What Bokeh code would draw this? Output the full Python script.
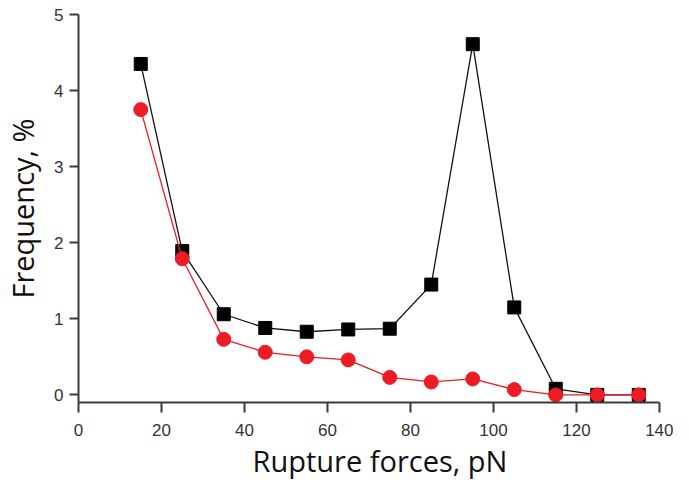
from bokeh.plotting import figure
from bokeh.models import FixedTicker, Range1d, Title
from bokeh.embed import file_html
from bokeh.resources import INLINE

# Data
force = [15, 25, 35, 45, 55, 65, 75, 85, 95, 105, 115, 125, 135]
freq_black = [4.35, 1.89, 1.06, 0.88, 0.83, 0.86, 0.87, 1.45, 4.61, 1.15, 0.08, 0.0, 0.0]
freq_red = [3.75, 1.79, 0.73, 0.56, 0.50, 0.46, 0.23, 0.17, 0.21, 0.07, 0.0, 0.0, 0.0]
x_ticks = [0, 20, 40, 60, 80, 100, 120, 140]
y_ticks = [0, 1, 2, 3, 4, 5]
x_title = "Rupture forces, pN"
y_title = "Frequency, %"

p = figure(width=673, height=482, output_backend="svg", toolbar_location=None,
           x_range=Range1d(0, 140), y_range=Range1d(-0.1, 5),
           min_border_left=75, min_border_right=14, min_border_top=14, min_border_bottom=80)
p.outline_line_color = None
p.xgrid.visible = False
p.ygrid.visible = False
p.background_fill_color = "white"
p.border_fill_color = "white"

RED = "#ed1c24"
p.line(force, freq_black, line_color="#111111", line_width=1.3)
p.scatter(force, freq_black, marker="square", size=13, fill_color="black", line_color="black")
p.line(force, freq_red, line_color=RED, line_width=1.3)
p.scatter(force, freq_red, marker="circle", size=14, fill_color=RED, line_color=RED)

for ax, ticks in ((p.xaxis, x_ticks), (p.yaxis, y_ticks)):
    ax.ticker = FixedTicker(ticks=ticks)
    ax.minor_tick_line_color = None
    ax.major_tick_in = 0
    ax.axis_line_color = "#3a3a3a"
    ax.axis_line_width = 2
    ax.major_tick_line_color = "#3a3a3a"
    ax.major_tick_line_width = 2
    ax.major_label_text_font = "Liberation Sans"
    ax.major_label_text_font_size = "17px"
    ax.major_label_text_color = "#333333"
    ax.axis_label_text_font = "Open Sans"
    ax.axis_label_text_font_size = "29px"
    ax.axis_label_text_font_style = "normal"
    ax.axis_label_text_color = "#111111"

p.xaxis.major_tick_out = 10
p.yaxis.major_tick_out = 9
p.xaxis.major_label_standoff = 11
p.yaxis.major_label_standoff = 6
p.yaxis.axis_label = y_title
p.yaxis.axis_label_standoff = 9

xt = Title(text=x_title, align="left", offset=174, standoff=0,
           text_font="Open Sans", text_font_size="29px", text_font_style="normal",
           text_color="#111111")
p.add_layout(xt, "below")

open("out.html", "w").write(file_html(p, INLINE))
